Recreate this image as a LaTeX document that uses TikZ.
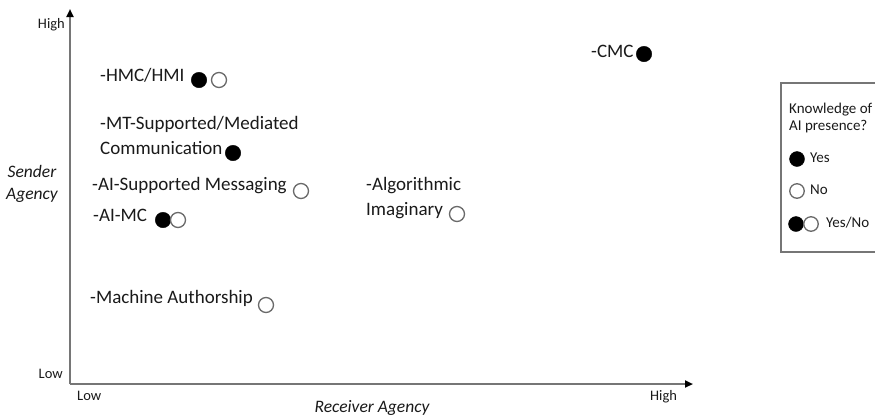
\documentclass[tikz,border=0pt]{standalone}
\usepackage{fontspec}
\setmainfont{Carlito}
\usetikzlibrary{arrows.meta}
\definecolor{txt}{HTML}{1A1A1A}
\definecolor{axisgray}{HTML}{767676}
\definecolor{ringgray}{HTML}{6A6A6A}
\begin{document}
\begin{tikzpicture}[x=1pt,y=-1pt,
  lbl/.style={anchor=mid west,inner sep=0pt,text=txt,font=\fontsize{19}{24.5}\selectfont,align=left},
  small/.style={inner sep=0pt,text=txt,font=\fontsize{14.5}{17}\selectfont},
  axlbl/.style={inner sep=0pt,text=txt,font=\fontsize{17.5}{22}\selectfont\itshape,align=center},
  leg/.style={anchor=mid west,inner sep=0pt,text=txt,font=\fontsize{15}{16.5}\selectfont,align=left},
  yesdot/.style={circle,draw=black,fill=black,minimum size=15.5pt,inner sep=0pt},
  nodot/.style={circle,draw=ringgray,fill=white,line width=1.3pt,minimum size=15pt,inner sep=0pt},
  lyes/.style={yesdot,minimum size=15pt},
  lno/.style={nodot,minimum size=14.5pt},
  axis/.style={draw=axisgray,line width=2pt,-{Triangle[length=8pt,width=7pt,color=black]}}]
\clip (0,0) rectangle (875,416);
\fill[white] (0,0) rectangle (875,416);
% axes
\coordinate (o) at (70,384);
\coordinate (ytop) at (70,9);
\coordinate (xend) at (693,384);
\draw[axis] (o) -- (ytop);
\draw[axis] (o) -- (xend);
\node[small,anchor=mid east] (yhigh) at (65,26) {High};
\node[small,anchor=mid east] (ylow) at (63,376) {Low};
\node[small,anchor=mid west] (xlow) at (77,398) {Low};
\node[small,anchor=mid west] (xhigh) at (650,398) {High};
\node[axlbl] (sender) at (32,184) {Sender\\Agency};
\node[axlbl] (receiver) at (372,408) {Receiver Agency};
% items
\node[lbl] (hmc) at (100,79) {-HMC/HMI};
\node[yesdot] (hmcY) at (199,80) {};
\node[nodot] (hmcN) at (219,80) {};
\node[lbl] (mt) at (100,152) {-MT-Supported/Mediated\\Communication};
\node[yesdot] (mtY) at (233,153) {};
\node[lbl] (aism) at (92,188) {-AI-Supported Messaging};
\node[nodot] (aismN) at (301,191) {};
\node[lbl] (aimc) at (93,219) {-AI-MC};
\node[yesdot] (aimcY) at (163,220) {};
\node[nodot] (aimcN) at (178,220) {};
\node[lbl] (ma) at (90,301) {-Machine Authorship};
\node[nodot] (maN) at (266,305) {};
\node[lbl] (alg) at (366,213) {-Algorithmic\\Imaginary};
\node[nodot] (algN) at (457,214) {};
\node[lbl] (cmc) at (591,55) {-CMC};
\node[yesdot] (cmcY) at (644,54) {};
% legend
\draw[axisgray,line width=1.2pt] (781,83) rectangle (880,252);
\node[leg] (legt) at (789,128) {Knowledge of\\AI presence?};
\node[lyes] (l1) at (797,159) {};
\node[leg] (l1t) at (810,160) {Yes};
\node[lno] (l2) at (797,191) {};
\node[leg] (l2t) at (810,192) {No};
\node[lyes] (l3a) at (796,224) {};
\node[lno] (l3b) at (811,224) {};
\node[leg] (l3t) at (826,225) {Yes/No};
\end{tikzpicture}
\end{document}
